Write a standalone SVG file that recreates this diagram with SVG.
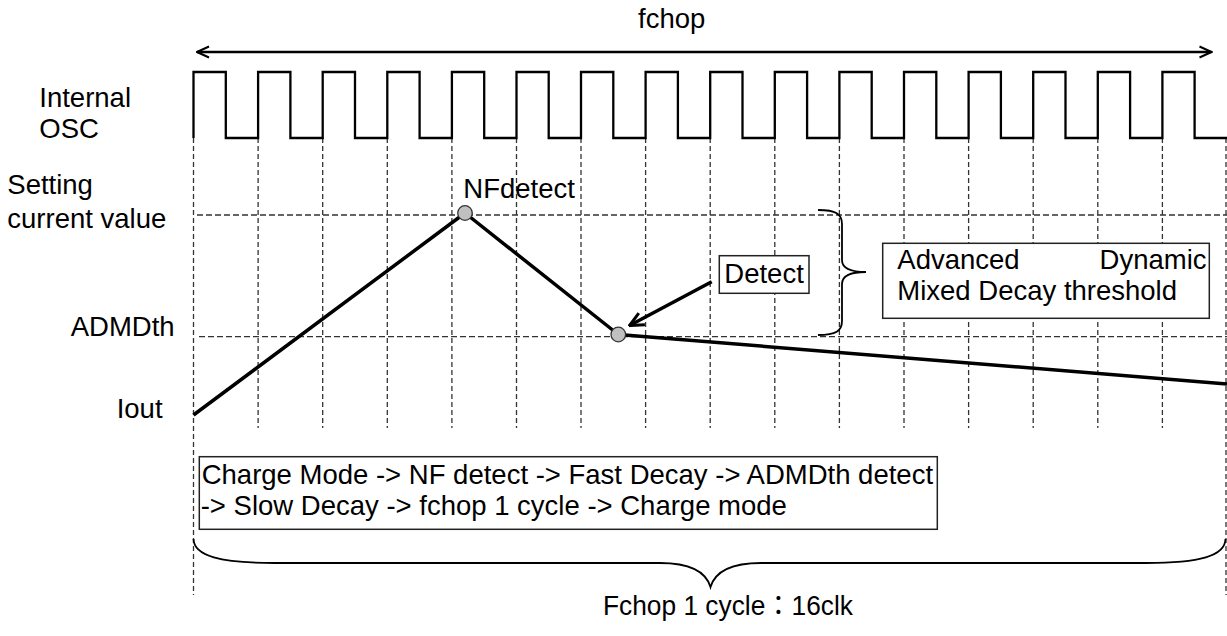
<svg xmlns="http://www.w3.org/2000/svg" width="1227" height="636" viewBox="0 0 1227 636">
<style>
text{font-family:"Liberation Sans",Arial,sans-serif;font-size:27.5px;fill:#000}
.grid{stroke:#333;stroke-width:1.3;fill:none}
.v{stroke-dasharray:5,3}
.h{stroke-dasharray:6,3}
.box{fill:#fff;stroke:#222;stroke-width:1.5}
.thick{fill:none;stroke:#000;stroke-width:3.5;stroke-linejoin:round}
.dot{fill:#c0c0c0;stroke:#333;stroke-width:1.3}
.brace{fill:none;stroke:#000;stroke-width:1.8}
</style>
<defs>
<marker id="open" viewBox="0 0 14 14" refX="13" refY="7" markerWidth="14" markerHeight="14" markerUnits="userSpaceOnUse" orient="auto-start-reverse">
<path d="M1,1.5 L13,7 L1,12.5" fill="none" stroke="#000" stroke-width="2"/>
</marker>
<marker id="open2" viewBox="0 0 16 16" refX="15" refY="8" markerWidth="16" markerHeight="16" markerUnits="userSpaceOnUse" orient="auto">
<path d="M1,1.5 L15,8 L1,14.5" fill="none" stroke="#000" stroke-width="3"/>
</marker>
</defs>
<rect width="1227" height="636" fill="#fff"/>

<g id="grid">
<path class="grid v" d="M193.5,138 V595 M258.1,138 V428 M322.7,138 V428 M387.3,138 V428 M451.9,138 V428 M516.5,138 V428 M581,138 V428 M645.6,138 V428 M710.2,138 V428 M774.8,138 V428 M839.4,138 V428 M904,138 V428 M968.6,138 V428 M1033.2,138 V428 M1097.8,138 V428 M1162.4,138 V428 M1226,138 V595"/>
<path class="grid h" d="M197,215 H1227 M199,336.7 H1227"/>
</g>

<g id="labels">
<text x="638" y="28">fchop</text>
<text x="39.3" y="107">Internal</text>
<text x="39.3" y="138">OSC</text>
<text x="7.3" y="194">Setting</text>
<text x="7.3" y="228">current value</text>
<text x="70.7" y="336">ADMDth</text>
<text x="116.7" y="418">Iout</text>
</g>

<g id="clock">
<path fill="none" stroke="#000" stroke-width="2.3" d="M193.5,138 V72 H225.8 V138 H258.1 V72 H290.4 V138 H322.7 V72 H355 V138 H387.3 V72 H419.6 V138 H451.9 V72 H484.2 V138 H516.5 V72 H548.7 V138 H581 V72 H613.3 V138 H645.6 V72 H677.9 V138 H710.2 V72 H742.5 V138 H774.8 V72 H807.1 V138 H839.4 V72 H871.7 V138 H904 V72 H936.3 V138 H968.6 V72 H1000.9 V138 H1033.2 V72 H1065.5 V138 H1097.8 V72 H1130.1 V138 H1162.4 V72 H1194.6 V138 H1227"/>
</g>

<g id="iout">
<path class="thick" d="M193.5,415 L465,213 L618.3,334.5 L1227,384"/>
</g>

<g id="nfdetect">
<circle class="dot" cx="465" cy="213" r="7.3"/>
<text x="463.3" y="198">NFdetect</text>
</g>

<g id="admd-point">
<circle class="dot" cx="618.3" cy="334.5" r="7.3"/>
</g>

<g id="detect">
<rect class="box" x="719.3" y="255.7" width="89.7" height="37.6"/>
<text x="724.3" y="282.5">Detect</text>
</g>

<g id="threshold-brace">
<path class="brace" d="M818,210 C836,210 842,214 842,224 V260 C842,268 850,272 866,272 C850,272 842,276 842,284 V321 C842,331 836,335 818,335"/>
</g>

<g id="threshold">
<rect class="box" x="882.7" y="243.3" width="326.6" height="75"/>
<text x="897.3" y="269">Advanced</text>
<text x="1206.5" y="269" text-anchor="end">Dynamic</text>
<text x="897.3" y="300">Mixed Decay threshold</text>
</g>

<g id="sequence">
<rect class="box" x="199.3" y="456.7" width="738" height="72.6"/>
<text x="201.7" y="483.5">Charge Mode -&gt; NF detect -&gt; Fast Decay -&gt; ADMDth detect</text>
<text x="200.7" y="515">-&gt; Slow Decay -&gt; fchop 1 cycle -&gt; Charge mode</text>
</g>

<g id="cycle-brace">
<path class="brace" d="M193.5,539 C194,556 220,563 275,563 H660 C690,563 706,572 710.5,587 C715,572 731,563 761,563 H1146 C1200,563 1225,556 1225.5,539"/>
<text x="603" y="615" textLength="250" lengthAdjust="spacingAndGlyphs" style="font-family:'Liberation Sans','Noto Sans CJK JP',sans-serif">Fchop 1 cycle：16clk</text>
</g>

<g id="connectors">
<line x1="197" y1="52" x2="1211.5" y2="52" stroke="#000" stroke-width="2.5" marker-start="url(#open)" marker-end="url(#open)"/>
<line x1="711.7" y1="281.7" x2="629.5" y2="325.5" stroke="#000" stroke-width="3.5" marker-end="url(#open2)"/>
</g>
</svg>
